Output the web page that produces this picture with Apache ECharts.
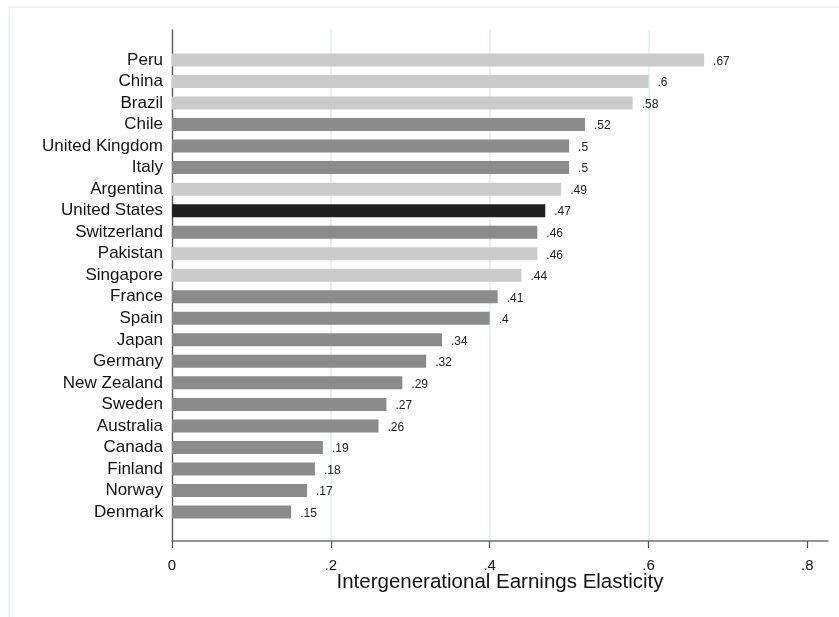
<!DOCTYPE html>
<html><head><meta charset="utf-8">
<script src="https://cdn.jsdelivr.net/npm/echarts@6/dist/echarts.min.js"></script>
<style>html,body{margin:0;padding:0;background:#fff}#c{width:839px;height:617px}</style>
</head><body><div id="c"></div>
<script>
const countries = ['Peru','China','Brazil','Chile','United Kingdom','Italy','Argentina','United States','Switzerland','Pakistan','Singapore','France','Spain','Japan','Germany','New Zealand','Sweden','Australia','Canada','Finland','Norway','Denmark'];
const elasticity = [0.67,0.6,0.58,0.52,0.5,0.5,0.49,0.47,0.46,0.46,0.44,0.41,0.4,0.34,0.32,0.29,0.27,0.26,0.19,0.18,0.17,0.15];
const group = ['L','L','L','D','D','D','L','US','D','L','L','D','D','D','D','D','D','D','D','D','D','D'];
const xTicks = [0,0.2,0.4,0.6,0.8];
const axisTitle = 'Intergenerational Earnings Elasticity';

const groupColor = {L:'#cbcbcb', D:'#8b8b8b', US:'#1f1f1f'};
const fmt = v => { if (v === 0) return '0'; return String(+v.toFixed(2)).replace(/^0\./,'.'); };
const XMAX = 0.826;
const FONT = 'Liberation Sans, Arial, sans-serif';
const chart = echarts.init(document.getElementById('c'), null, {renderer:'canvas'});
chart.setOption({
  animation:false,
  backgroundColor:'#fff',
  graphic:[
    {type:'rect', shape:{x:9,y:7,width:840,height:620}, style:{fill:'none', stroke:'#e3ecee', lineWidth:1.2}, silent:true, z:-1},
    {type:'text', x:500, y:582.5, style:{text:axisTitle, fontSize:20.5, fill:'#111', fontFamily:FONT, textAlign:'center', textVerticalAlign:'middle'}, silent:true}
  ],
  grid:[
    {left:172, right:11, top:30, bottom:76},
    {left:172, right:11, top:49.2, bottom:94.2}
  ],
  xAxis:[
    {gridIndex:0, type:'value', min:0, max:XMAX, interval:0.2,
     axisLine:{show:true, lineStyle:{color:'#6f6f6f', width:1.6}},
     axisTick:{show:true, length:7, lineStyle:{color:'#555', width:1.2}},
     axisLabel:{showMaxLabel:false, margin:17, fontSize:15, color:'#111', fontFamily:FONT, formatter:v=>fmt(v)},
     splitLine:{show:true, lineStyle:{color:['rgba(0,0,0,0)','#e0ecf0','#e0ecf0','#e0ecf0','rgba(0,0,0,0)'], width:1.5}}},
    {gridIndex:1, type:'value', min:0, max:XMAX, show:false}
  ],
  yAxis:[
    {gridIndex:0, type:'value', min:0, max:1,
     axisLine:{show:true, lineStyle:{color:'#555', width:1.4}},
     axisTick:{show:false}, axisLabel:{show:false}, splitLine:{show:false}},
    {gridIndex:1, type:'category', data:countries, inverse:true,
     axisLine:{show:false}, axisTick:{show:false}, splitLine:{show:false},
     axisLabel:{interval:0, margin:9, fontSize:17, color:'#111', fontFamily:FONT}}
  ],
  series:[{
    type:'bar', xAxisIndex:1, yAxisIndex:1, barWidth:13,
    data: elasticity.map((v,i)=>({value:v, itemStyle:{color:groupColor[group[i]]}})),
    label:{show:true, position:'right', distance:9, offset:[0,1.5], fontSize:12, color:'#222', fontFamily:FONT, formatter:p=>fmt(p.value)}
  }]
});
</script></body></html>
